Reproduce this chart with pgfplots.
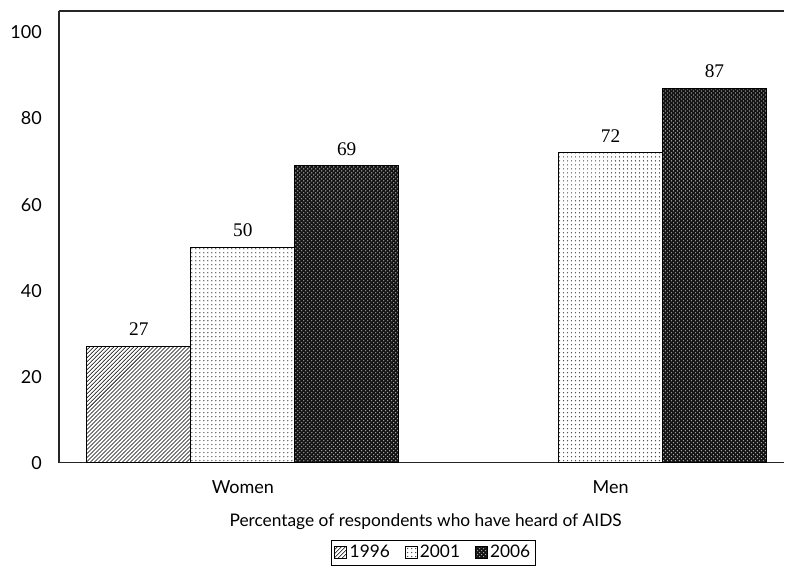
\documentclass[border=0pt]{standalone}
\usepackage{fontspec}
\setmainfont{Lato}
\newfontfamily\serifnum{Liberation Serif}
\usepackage{pgfplots}
\pgfplotsset{compat=1.18}
\usetikzlibrary{patterns}
\begin{document}
\begin{tikzpicture}
\begin{axis}[name=ax, scale only axis, width=544.5pt, height=339pt,
  xmin=-0.5, xmax=1.4728, ymin=0, ymax=105, enlargelimits=false,
  axis x line=box, axis y line=left,
  axis line style={-, line width=0.9pt, black!85},
  ytick={0,20,40,60,80,100}, xtick={0,1}, xticklabels={Women,Men},
  major tick length=0pt,
  /pgf/number format/assume math mode=true,
  tick label style={font=\fontsize{13.5}{16}\selectfont, inner sep=0pt},
  yticklabel style={anchor=east, xshift=-12.75pt},
  xticklabel style={anchor=center, yshift=-18pt},
  xlabel={Percentage of respondents who have heard of AIDS},
  xlabel style={font=\fontsize{13}{16}\selectfont, at={(axis description cs:0.5055,-0.1305)}, anchor=center},
  ybar=0pt, bar width=78pt,
  nodes near coords,
  every node near coord/.append style={font=\serifnum\fontsize{14.5}{16}\selectfont, inner sep=0pt, anchor=south, yshift=7.5pt},
  legend columns=3,
  legend style={draw=black, line width=0.6pt, at={(axis description cs:0.5165,-0.1704)}, anchor=north,
    font=\fontsize{13}{16}\selectfont, inner sep=2pt,
    /tikz/every even column/.append style={column sep=9pt}},
  legend image code/.code={\draw[#1, line width=0.5pt] (0pt,-4.5pt) rectangle (9pt,4.5pt);},
]
\addplot[draw=black, line width=0.8pt, pattern=north east lines, pattern color=black] coordinates {(0,27)};
\addlegendentry{1996}
\addplot[draw=black, line width=0.8pt, pattern=dots, pattern color=black!75] coordinates {(0,50) (1,72)};
\addlegendentry{2001}
\addplot[draw=black, line width=0.8pt, fill=black!92, postaction={pattern=crosshatch dots, pattern color=white!70!black}] coordinates {(0,69) (1,87)};
\addlegendentry{2006}
\end{axis}
\path ([xshift=-44.25pt,yshift=-79.5pt]ax.south west) rectangle ([yshift=8.25pt]ax.north east);
\end{tikzpicture}
\end{document}
